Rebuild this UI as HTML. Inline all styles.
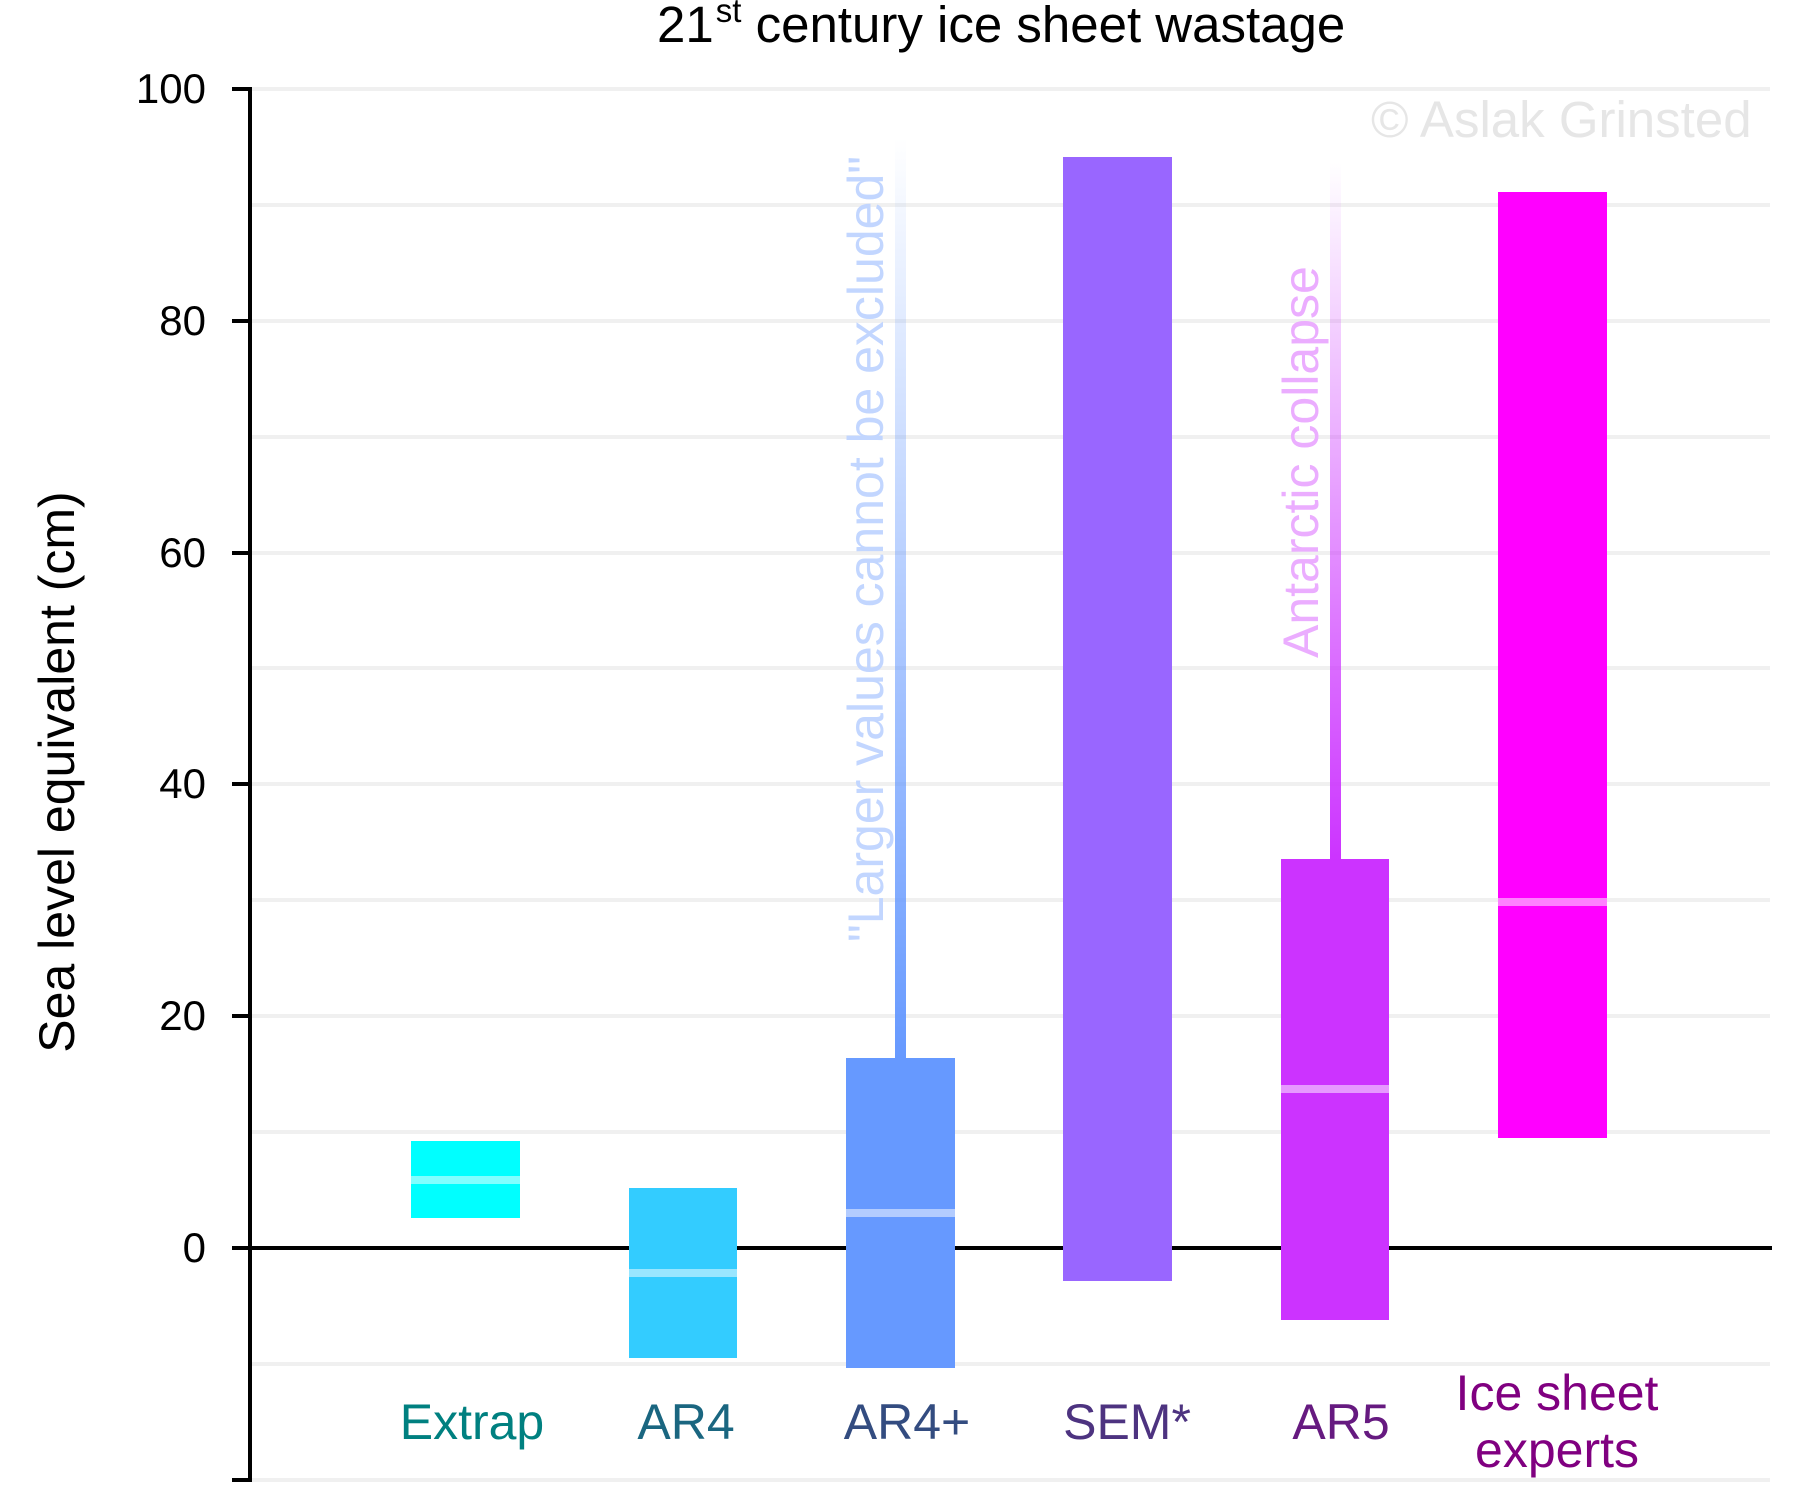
<!DOCTYPE html>
<html>
<head>
<meta charset="utf-8">
<style>
  html, body { margin: 0; padding: 0; background: #ffffff; }
  svg { display: block; }
  text { font-family: "Liberation Sans", Arial, sans-serif; }
</style>
</head>
<body>
<svg width="1800" height="1500" viewBox="0 0 1800 1500" xmlns="http://www.w3.org/2000/svg">
  <defs>
    <linearGradient id="gBlue" x1="0" y1="0" x2="0" y2="1">
      <stop offset="0" stop-color="#6699FF" stop-opacity="0"/>
      <stop offset="1" stop-color="#6699FF" stop-opacity="1"/>
    </linearGradient>
    <linearGradient id="gMag" x1="0" y1="0" x2="0" y2="1">
      <stop offset="0" stop-color="#CC33FF" stop-opacity="0"/>
      <stop offset="1" stop-color="#CC33FF" stop-opacity="1"/>
    </linearGradient>
  </defs>
  <rect x="0" y="0" width="1800" height="1500" fill="#ffffff"/>

  <!-- gridlines every 10 -->
  <g fill="#f0f0f0">
    <rect x="252" y="87" width="1518" height="4"/>
    <rect x="252" y="203" width="1518" height="4"/>
    <rect x="252" y="319" width="1518" height="4"/>
    <rect x="252" y="435" width="1518" height="4"/>
    <rect x="252" y="551" width="1518" height="4"/>
    <rect x="252" y="666" width="1518" height="4"/>
    <rect x="252" y="782" width="1518" height="4"/>
    <rect x="252" y="898" width="1518" height="4"/>
    <rect x="252" y="1014" width="1518" height="4"/>
    <rect x="252" y="1130" width="1518" height="4"/>
    <rect x="252" y="1362" width="1518" height="4"/>
    <rect x="252" y="1478" width="1518" height="4"/>
  </g>

  <!-- zero line -->
  <rect x="252" y="1246" width="1520" height="4" fill="#000000"/>

  <!-- watermark -->
  <text x="1371" y="137" font-size="51" fill="#e6e6e6">© Aslak Grinsted</text>

  <!-- annotations -->
  <text transform="translate(883,942) rotate(-90)" font-size="50" fill="#C2D6FF">"Larger values cannot be excluded"</text>
  <text transform="translate(1318,658) rotate(-90)" font-size="50" fill="#EBADFF">Antarctic collapse</text>

  <!-- whiskers -->
  <rect x="895" y="138" width="11" height="921" fill="url(#gBlue)"/>
  <rect x="1330" y="162" width="11" height="698" fill="url(#gMag)"/>

  <!-- bars -->
  <rect x="411" y="1141" width="109" height="77" fill="#00FFFF"/>
  <rect x="411" y="1176" width="109" height="8" fill="#80FFFF"/>

  <rect x="629" y="1188" width="108" height="170" fill="#33CCFF"/>
  <rect x="629" y="1269" width="108" height="8" fill="#99E6FF"/>

  <rect x="846" y="1058" width="109" height="310" fill="#6699FF"/>
  <rect x="846" y="1209" width="109" height="8" fill="#B3CCFF"/>

  <rect x="1063" y="157" width="109" height="1124" fill="#9966FF"/>

  <rect x="1281" y="859" width="108" height="461" fill="#CC33FF"/>
  <rect x="1281" y="1085" width="108" height="8" fill="#E699FF"/>

  <rect x="1498" y="192" width="109" height="946" fill="#FF00FF"/>
  <rect x="1498" y="898" width="109" height="8" fill="#FF80FF"/>

  <!-- y axis -->
  <rect x="248" y="87" width="4" height="1395" fill="#000000"/>
  <g fill="#000000">
    <rect x="232" y="87" width="18" height="4"/>
    <rect x="232" y="319" width="18" height="4"/>
    <rect x="232" y="551" width="18" height="4"/>
    <rect x="232" y="782" width="18" height="4"/>
    <rect x="232" y="1014" width="18" height="4"/>
    <rect x="232" y="1246" width="18" height="4"/>
    <rect x="232" y="1478" width="18" height="4"/>
  </g>
  <g font-size="42" fill="#000000" text-anchor="end">
    <text x="206" y="103">100</text>
    <text x="206" y="335">80</text>
    <text x="206" y="567">60</text>
    <text x="206" y="798">40</text>
    <text x="206" y="1030">20</text>
    <text x="206" y="1262">0</text>
  </g>

  <!-- y label -->
  <text transform="translate(74,772) rotate(-90)" font-size="50" fill="#000000" text-anchor="middle">Sea level equivalent (cm)</text>

  <!-- title -->
  <text x="657" y="42" font-size="51" fill="#000000">21<tspan font-size="33" dx="2" dy="-20">st</tspan><tspan dy="20"> century ice sheet wastage</tspan></text>

  <!-- x labels -->
  <g font-size="50" text-anchor="middle">
    <text x="472" y="1439" fill="#008080">Extrap</text>
    <text x="686" y="1439" fill="#1A6680">AR4</text>
    <text x="907" y="1439" fill="#334C80">AR4+</text>
    <text x="1127" y="1439" fill="#4D3380">SEM*</text>
    <text x="1341" y="1439" fill="#661A80">AR5</text>
    <text x="1557" y="1410" fill="#800080">Ice sheet</text>
    <text x="1557" y="1467" fill="#800080">experts</text>
  </g>
</svg>
</body>
</html>
